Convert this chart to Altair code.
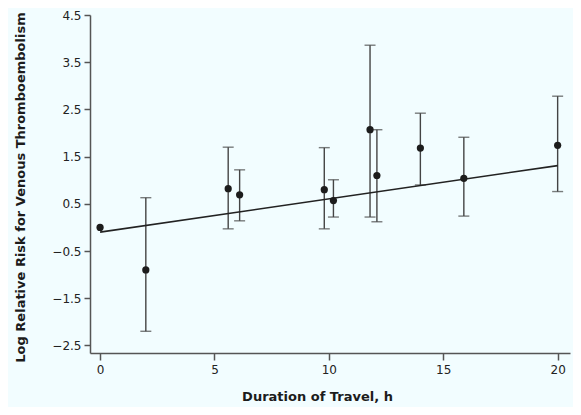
import altair as alt
import pandas as pd

# Data
duration = [0, 2, 5.6, 6.1, 9.8, 10.2, 11.8, 12.1, 14.0, 15.9, 20.0]
log_rr = [0.0, -0.9, 0.82, 0.69, 0.80, 0.57, 2.07, 1.10, 1.68, 1.04, 1.74]
ci_low = [None, -2.2, -0.03, 0.14, -0.03, 0.22, 0.22, 0.12, 0.90, 0.24, 0.76]
ci_high = [None, 0.63, 1.70, 1.22, 1.69, 1.01, 3.86, 2.07, 2.42, 1.91, 2.78]

fit_x = [0, 20]
fit_y = [-0.10, 1.31]

x_ticks = [0, 5, 10, 15, 20]
y_ticks = [-2.5, -1.5, -0.5, 0.5, 1.5, 2.5, 3.5, 4.5]

pts = pd.DataFrame({"x": duration, "y": log_rr, "lo": ci_low, "hi": ci_high})
bars = pts.dropna()
fit = pd.DataFrame({"x": fit_x, "y": fit_y})

FONT = "DejaVu Sans"
INK = "#1c1c1c"
AX = "#555555"

xscale = alt.Scale(domain=[-0.44, 20.54], nice=False, zero=False)
yscale = alt.Scale(domain=[-2.66, 4.5], nice=False, zero=False)

xaxis = alt.Axis(
    values=x_ticks, format="d", grid=False, domainColor=AX, domainWidth=1.5,
    tickColor=AX, tickWidth=1.5, tickSize=7, labelPadding=4, labelFont=FONT,
    labelFontSize=12, labelColor="#222222", title="Duration of Travel, h",
    titleFont=FONT, titleFontSize=13, titleFontWeight="bold", titleColor=INK,
    titleX=227, titleY=43, titleBaseline="middle", titleAlign="center",
)
yaxis = alt.Axis(
    values=y_ticks, format=".1f", grid=False, domainColor=AX, domainWidth=1.5,
    tickColor=AX, tickWidth=1.5, tickSize=6, labelPadding=3, labelFont=FONT,
    labelFontSize=12, labelColor="#222222",
    title="Log Relative Risk for Venous Thromboembolism",
    titleFont=FONT, titleFontSize=13, titleFontWeight="bold", titleColor=INK,
    titleX=-70, titleY=172, titleAngle=-90, titleBaseline="middle", titleAlign="center",
)

rules = alt.Chart(bars).mark_rule(color="#444444", strokeWidth=1.4).encode(
    x=alt.X("x:Q", scale=xscale, axis=xaxis),
    y=alt.Y("lo:Q", scale=yscale, axis=yaxis),
    y2="hi:Q",
)
cap_lo = alt.Chart(bars).mark_tick(color="#444444", thickness=1.4, size=11, orient="horizontal").encode(
    x=alt.X("x:Q", scale=xscale), y=alt.Y("lo:Q", scale=yscale)
)
cap_hi = alt.Chart(bars).mark_tick(color="#444444", thickness=1.4, size=11, orient="horizontal").encode(
    x=alt.X("x:Q", scale=xscale), y=alt.Y("hi:Q", scale=yscale)
)
line = alt.Chart(fit).mark_line(color="#222222", strokeWidth=1.6).encode(
    x=alt.X("x:Q", scale=xscale), y=alt.Y("y:Q", scale=yscale)
)
dots = alt.Chart(pts).mark_circle(color=INK, opacity=1, size=52).encode(
    x=alt.X("x:Q", scale=xscale), y=alt.Y("y:Q", scale=yscale)
)

chart = (
    alt.layer(rules, cap_lo, cap_hi, line, dots)
    .properties(
        width=480, height=338,
        autosize=alt.AutoSizeParams(type="none"),
        padding={"left": 82, "top": 7, "right": 3, "bottom": 54},
        background="#f2fdff",
    )
    .configure_view(stroke=None)
)

chart.save("out.html", embed_options={"renderer": "svg", "actions": False})
